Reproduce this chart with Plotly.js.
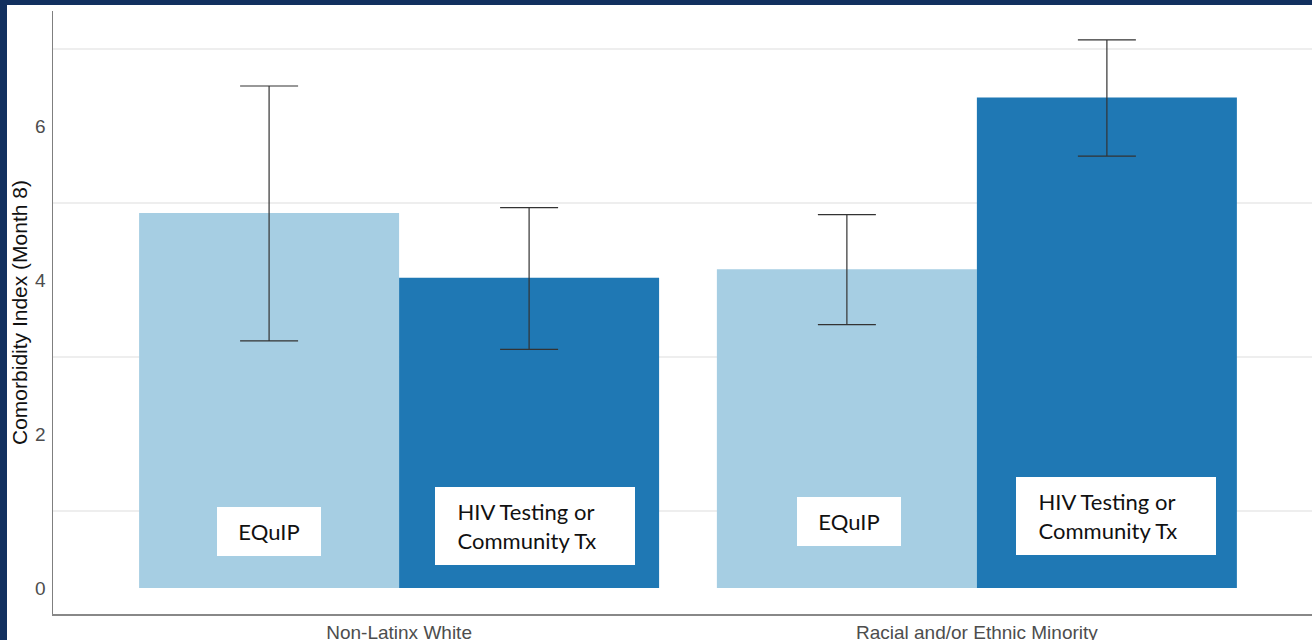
<!DOCTYPE html>
<html>
<head>
<meta charset="utf-8">
<script src="https://cdn.plot.ly/plotly-3.0.1.min.js"></script>
<style>
  html, body { margin: 0; padding: 0; background: #12305f; width: 1312px; height: 640px; overflow: hidden; }
  #chart { position: absolute; left: 7px; top: 5px; width: 1305px; height: 635px; background: #fff; }
</style>
</head>
<body>
<div id="chart"></div>
<script>
// Categories
const categories = ["Non-Latinx White", "Racial and/or Ethnic Minority"];
// EQuIP series: mean and 95% CI bounds
const equipMean = [4.87, 4.14];
const equipLow  = [3.21, 3.42];
const equipHigh = [6.52, 4.85];
// HIV Testing or Community Tx series
const hivMean = [4.03, 6.37];
const hivLow  = [3.10, 5.61];
const hivHigh = [4.94, 7.12];
// Y-axis ticks
const yTicks = [0, 2, 4, 6];
const yMinorTicks = [1, 3, 5, 7];
// Box labels
const seriesLabels = ["EQuIP", "HIV Testing or", "Community Tx"];

const errBar = (mean, lo, hi) => ({
  type: "data", symmetric: false,
  array: hi.map((h, i) => h - mean[i]),
  arrayminus: lo.map((l, i) => mean[i] - l),
  color: "#333333", thickness: 1.2, width: 29, visible: true
});

const traces = [
  { type: "bar", x: categories, y: equipMean, name: "EQuIP",
    marker: { color: "#a6cee3", line: { width: 0 } },
    error_y: errBar(equipMean, equipLow, equipHigh), hoverinfo: "skip" },
  { type: "bar", x: categories, y: hivMean, name: "HIV Testing or Community Tx",
    marker: { color: "#1f78b4", line: { width: 0 } },
    error_y: errBar(hivMean, hivLow, hivHigh), hoverinfo: "skip" }
];

const pad = "&nbsp;&nbsp;&nbsp;&nbsp;";
const hivText = pad + seriesLabels[1] + "<br>" + pad + seriesLabels[2];
const boxFont = { family: "Lato, 'Open Sans', sans-serif", size: 22, color: "#111111" };
const annotations = [
  { x: -0.225, y: 0.734, text: seriesLabels[0], width: 104, height: 49, align: "center" },
  { x: 0.236, y: 0.805, text: hivText, width: 200, height: 78, align: "left" },
  { x: 0.779, y: 0.867, text: seriesLabels[0], width: 104, height: 49, align: "center" },
  { x: 1.240, y: 0.932, text: hivText, width: 200, height: 78, align: "left" }
].map(a => Object.assign({
  xref: "x", yref: "y", showarrow: false, bgcolor: "#ffffff", borderpad: 0, borderwidth: 0,
  xanchor: "center", yanchor: "middle", valign: "middle", font: boxFont
}, a));

const layout = {
  width: 1305, height: 635,
  margin: { l: 46, r: 0, t: 6, b: 26, pad: 0 },
  paper_bgcolor: "#ffffff", plot_bgcolor: "#ffffff",
  showlegend: false,
  barmode: "group", bargap: 0.1, bargroupgap: 0,
  font: { family: "'Liberation Sans', Arial, sans-serif", color: "#4d4d4d" },
  xaxis: {
    type: "category", range: [-0.599, 1.580],
    showgrid: false, zeroline: false,
    showline: true, linecolor: "#888888", linewidth: 2,
    ticks: "", ticklabelstandoff: 0,
    tickfont: { size: 19, color: "#4d4d4d" },
    automargin: false, fixedrange: true
  },
  yaxis: {
    range: [-0.338, 7.494],
    tickmode: "array", tickvals: yTicks, ticktext: yTicks.map(String),
    showgrid: false, zeroline: false,
    minor: { tickmode: "array", tickvals: yMinorTicks, showgrid: true, gridcolor: "#eeeeee", gridwidth: 1.5, ticks: "" },
    showline: true, linecolor: "#7f7f7f", linewidth: 1.5,
    ticks: "", ticklabelstandoff: 2,
    tickfont: { size: 19, color: "#4d4d4d" },
    title: { text: "Comorbidity Index (Month 8)", font: { size: 21, color: "#111111" }, standoff: 2 },
    automargin: false, fixedrange: true
  },
  annotations: annotations
};

Plotly.newPlot("chart", traces, layout, { displayModeBar: false, staticPlot: true });
</script>
</body>
</html>
